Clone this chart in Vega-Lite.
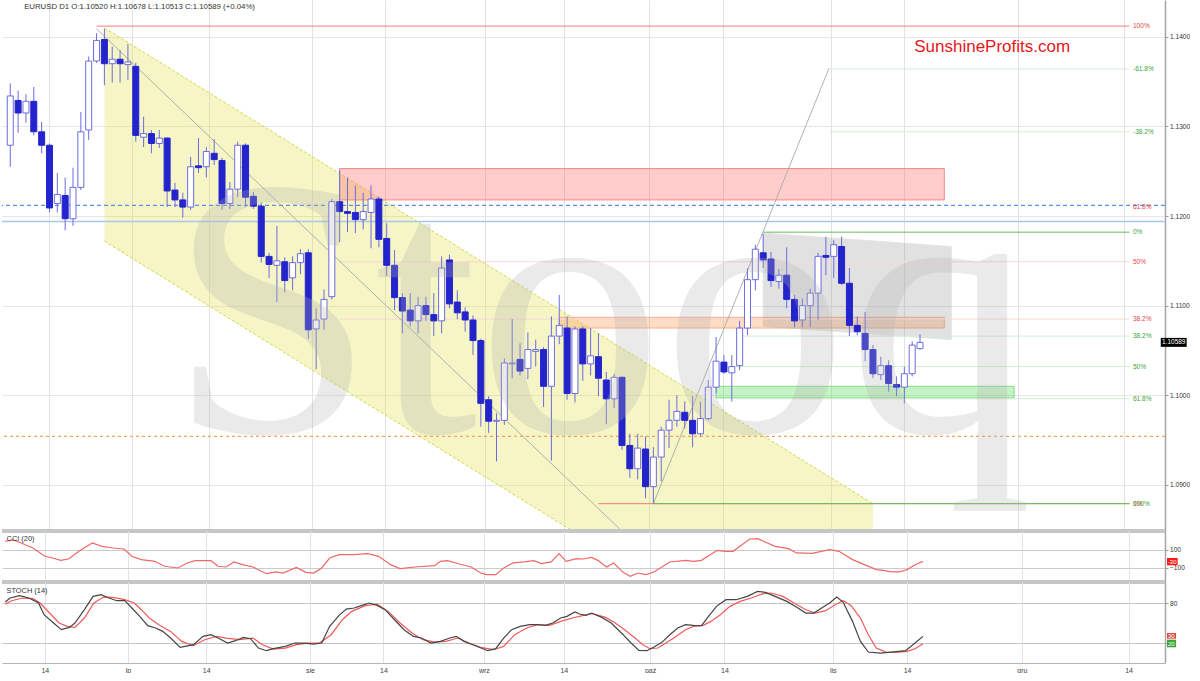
{
"$schema":"https://vega.github.io/schema/vega-lite/v6.json",
"padding":0,
"background":"#ffffff",
"spacing":0,
"bounds":"flush",
"config":{"font":"Liberation Sans","view":{"stroke":null},"axis":{"labelFont":"Liberation Sans","labelColor":"#333333"}},
"datasets":{
"candles":[
{"k":0,"o":1.1279,"h":1.1348,"l":1.1255,"c":1.1334},
{"k":1,"o":1.1329,"h":1.1340,"l":1.1293,"c":1.1315},
{"k":2,"o":1.1315,"h":1.1336,"l":1.1304,"c":1.1328},
{"k":3,"o":1.1328,"h":1.1344,"l":1.1290,"c":1.1294},
{"k":4,"o":1.1294,"h":1.1305,"l":1.1270,"c":1.1279},
{"k":5,"o":1.1279,"h":1.1281,"l":1.1204,"c":1.1209},
{"k":6,"o":1.1214,"h":1.1248,"l":1.1204,"c":1.1224},
{"k":7,"o":1.1223,"h":1.1243,"l":1.1184,"c":1.1197},
{"k":8,"o":1.1197,"h":1.1254,"l":1.1189,"c":1.1232},
{"k":9,"o":1.1232,"h":1.1316,"l":1.1229,"c":1.1294},
{"k":10,"o":1.1296,"h":1.1378,"l":1.1285,"c":1.1373},
{"k":11,"o":1.1373,"h":1.1404,"l":1.1371,"c":1.1396},
{"k":12,"o":1.1397,"h":1.1409,"l":1.1346,"c":1.1370},
{"k":13,"o":1.1370,"h":1.1389,"l":1.1349,"c":1.1375},
{"k":14,"o":1.1375,"h":1.1385,"l":1.1349,"c":1.1370},
{"k":15,"o":1.1369,"h":1.1392,"l":1.1352,"c":1.1372},
{"k":16,"o":1.1367,"h":1.1371,"l":1.1283,"c":1.1290},
{"k":17,"o":1.1288,"h":1.1311,"l":1.1277,"c":1.1292},
{"k":18,"o":1.1292,"h":1.1296,"l":1.1270,"c":1.1281},
{"k":19,"o":1.1281,"h":1.1296,"l":1.1276,"c":1.1287},
{"k":20,"o":1.1287,"h":1.1288,"l":1.1210,"c":1.1228},
{"k":21,"o":1.1229,"h":1.1237,"l":1.1210,"c":1.1218},
{"k":22,"o":1.1218,"h":1.1226,"l":1.1198,"c":1.1210},
{"k":23,"o":1.1210,"h":1.1266,"l":1.1207,"c":1.1255},
{"k":24,"o":1.1256,"h":1.1287,"l":1.1248,"c":1.1254},
{"k":25,"o":1.1255,"h":1.1277,"l":1.1243,"c":1.1272},
{"k":26,"o":1.1270,"h":1.1286,"l":1.1257,"c":1.1263},
{"k":27,"o":1.1262,"h":1.1265,"l":1.1207,"c":1.1214},
{"k":28,"o":1.1214,"h":1.1238,"l":1.1208,"c":1.1230},
{"k":29,"o":1.1230,"h":1.1283,"l":1.1221,"c":1.1279},
{"k":30,"o":1.1279,"h":1.1281,"l":1.1210,"c":1.1221},
{"k":31,"o":1.1222,"h":1.1227,"l":1.1208,"c":1.1211},
{"k":32,"o":1.1211,"h":1.1215,"l":1.1148,"c":1.1155},
{"k":33,"o":1.1155,"h":1.1159,"l":1.1131,"c":1.1146},
{"k":34,"o":1.1145,"h":1.1189,"l":1.1104,"c":1.1150},
{"k":35,"o":1.1149,"h":1.1154,"l":1.1115,"c":1.1128},
{"k":36,"o":1.1131,"h":1.1155,"l":1.1117,"c":1.1148},
{"k":37,"o":1.1148,"h":1.1163,"l":1.1135,"c":1.1158},
{"k":38,"o":1.1159,"h":1.1163,"l":1.1063,"c":1.1073},
{"k":39,"o":1.1074,"h":1.1097,"l":1.1029,"c":1.1084},
{"k":40,"o":1.1085,"h":1.1118,"l":1.1073,"c":1.1107},
{"k":41,"o":1.1110,"h":1.1219,"l":1.1107,"c":1.1216},
{"k":42,"o":1.1216,"h":1.1251,"l":1.1171,"c":1.1205},
{"k":43,"o":1.1205,"h":1.1243,"l":1.1182,"c":1.1203},
{"k":44,"o":1.1204,"h":1.1234,"l":1.1181,"c":1.1196},
{"k":45,"o":1.1196,"h":1.1226,"l":1.1185,"c":1.1205},
{"k":46,"o":1.1204,"h":1.1234,"l":1.1164,"c":1.1219},
{"k":47,"o":1.1219,"h":1.1222,"l":1.1165,"c":1.1174},
{"k":48,"o":1.1175,"h":1.1192,"l":1.1133,"c":1.1145},
{"k":49,"o":1.1145,"h":1.1162,"l":1.1095,"c":1.1109},
{"k":50,"o":1.1109,"h":1.1114,"l":1.1069,"c":1.1094},
{"k":51,"o":1.1095,"h":1.1114,"l":1.1077,"c":1.1083},
{"k":52,"o":1.1083,"h":1.1110,"l":1.1069,"c":1.1100},
{"k":53,"o":1.1100,"h":1.1110,"l":1.1083,"c":1.1090},
{"k":54,"o":1.1090,"h":1.1114,"l":1.1066,"c":1.1083},
{"k":55,"o":1.1083,"h":1.1155,"l":1.1069,"c":1.1142},
{"k":56,"o":1.1151,"h":1.1157,"l":1.1097,"c":1.1102},
{"k":57,"o":1.1104,"h":1.1117,"l":1.1085,"c":1.1092},
{"k":58,"o":1.1093,"h":1.1098,"l":1.1071,"c":1.1084},
{"k":59,"o":1.1084,"h":1.1089,"l":1.1045,"c":1.1061},
{"k":60,"o":1.1061,"h":1.1063,"l":1.0965,"c":1.0991},
{"k":61,"o":1.0995,"h":1.0999,"l":1.0958,"c":1.0971},
{"k":62,"o":1.0971,"h":1.0980,"l":1.0926,"c":1.0972},
{"k":63,"o":1.0972,"h":1.1041,"l":1.0967,"c":1.1036},
{"k":64,"o":1.1035,"h":1.1085,"l":1.1019,"c":1.1036},
{"k":65,"o":1.1040,"h":1.1058,"l":1.1022,"c":1.1027},
{"k":66,"o":1.1030,"h":1.1070,"l":1.1018,"c":1.1051},
{"k":67,"o":1.1049,"h":1.1062,"l":1.1032,"c":1.1051},
{"k":68,"o":1.1051,"h":1.1054,"l":1.0987,"c":1.1010},
{"k":69,"o":1.1010,"h":1.1088,"l":1.0927,"c":1.1066},
{"k":70,"o":1.1066,"h":1.1112,"l":1.1057,"c":1.1078},
{"k":71,"o":1.1075,"h":1.1088,"l":1.0995,"c":1.1002},
{"k":72,"o":1.1002,"h":1.1077,"l":1.0992,"c":1.1074},
{"k":73,"o":1.1074,"h":1.1077,"l":1.1016,"c":1.1035},
{"k":74,"o":1.1035,"h":1.1075,"l":1.1022,"c":1.1044},
{"k":75,"o":1.1043,"h":1.1069,"l":1.0999,"c":1.1019},
{"k":76,"o":1.1017,"h":1.1026,"l":1.0968,"c":1.0996},
{"k":77,"o":1.0996,"h":1.1024,"l":1.0986,"c":1.1020},
{"k":78,"o":1.1020,"h":1.1021,"l":1.0939,"c":1.0944},
{"k":79,"o":1.0944,"h":1.0957,"l":1.0908,"c":1.0918},
{"k":80,"o":1.0918,"h":1.0957,"l":1.0906,"c":1.0941},
{"k":81,"o":1.0940,"h":1.0954,"l":1.0885,"c":1.0898},
{"k":82,"o":1.0898,"h":1.0942,"l":1.0879,"c":1.0931},
{"k":83,"o":1.0931,"h":1.0965,"l":1.0904,"c":1.0961},
{"k":84,"o":1.0961,"h":1.0995,"l":1.0941,"c":1.0972},
{"k":85,"o":1.0972,"h":1.1000,"l":1.0965,"c":1.0982},
{"k":86,"o":1.0981,"h":1.0993,"l":1.0963,"c":1.0972},
{"k":87,"o":1.0972,"h":1.0999,"l":1.0942,"c":1.0957},
{"k":88,"o":1.0957,"h":1.0993,"l":1.0954,"c":1.0974},
{"k":89,"o":1.0974,"h":1.1017,"l":1.0972,"c":1.1009},
{"k":90,"o":1.1009,"h":1.1065,"l":1.1002,"c":1.1038},
{"k":91,"o":1.1037,"h":1.1045,"l":1.1024,"c":1.1026},
{"k":92,"o":1.1025,"h":1.1045,"l":1.0993,"c":1.1032},
{"k":93,"o":1.1033,"h":1.1083,"l":1.1028,"c":1.1075},
{"k":94,"o":1.1075,"h":1.1142,"l":1.1067,"c":1.1129},
{"k":95,"o":1.1129,"h":1.1168,"l":1.1117,"c":1.1163},
{"k":96,"o":1.1159,"h":1.1180,"l":1.1142,"c":1.1151},
{"k":97,"o":1.1152,"h":1.1160,"l":1.1121,"c":1.1128},
{"k":98,"o":1.1127,"h":1.1141,"l":1.1119,"c":1.1134},
{"k":99,"o":1.1134,"h":1.1165,"l":1.1097,"c":1.1107},
{"k":100,"o":1.1107,"h":1.1112,"l":1.1076,"c":1.1083},
{"k":101,"o":1.1084,"h":1.1108,"l":1.1076,"c":1.1100},
{"k":102,"o":1.1100,"h":1.1119,"l":1.1076,"c":1.1114},
{"k":103,"o":1.1114,"h":1.1159,"l":1.1084,"c":1.1155},
{"k":104,"o":1.1156,"h":1.1177,"l":1.1134,"c":1.1154},
{"k":105,"o":1.1155,"h":1.1173,"l":1.1131,"c":1.1168},
{"k":106,"o":1.1166,"h":1.1177,"l":1.1123,"c":1.1125},
{"k":107,"o":1.1125,"h":1.1142,"l":1.1066,"c":1.1078},
{"k":108,"o":1.1078,"h":1.1088,"l":1.1067,"c":1.1071},
{"k":109,"o":1.1069,"h":1.1093,"l":1.1038,"c":1.1051},
{"k":110,"o":1.1051,"h":1.1056,"l":1.1019,"c":1.1024},
{"k":111,"o":1.1023,"h":1.1043,"l":1.1017,"c":1.1033},
{"k":112,"o":1.1033,"h":1.1039,"l":1.1004,"c":1.1013},
{"k":113,"o":1.1012,"h":1.1021,"l":1.0999,"c":1.1009},
{"k":114,"o":1.1009,"h":1.1032,"l":1.0991,"c":1.1024},
{"k":115,"o":1.1024,"h":1.1060,"l":1.1021,"c":1.1056},
{"k":116,"o":1.1052,"h":1.1068,"l":1.1051,"c":1.1059}
],
"cci":[
{"k":0,"v":196},{"k":1,"v":213},{"k":2,"v":178},{"k":3.5,"v":122},{"k":5,"v":30},{"k":6,"v":11},{"k":7,"v":-15},{"k":8,"v":0},{"k":9.3,"v":85},{"k":11,"v":178},{"k":12.2,"v":141},{"k":13.6,"v":122},{"k":15,"v":111},{"k":16,"v":30},{"k":17.2,"v":-7},{"k":18.9,"v":-26},{"k":20.1,"v":-81},{"k":21.8,"v":-100},{"k":23,"v":-44},{"k":24,"v":-19},{"k":26,"v":-19},{"k":26.9,"v":-81},{"k":27.9,"v":-89},{"k":28.9,"v":-33},{"k":30,"v":-63},{"k":31.3,"v":-89},{"k":33,"v":-163},{"k":34.2,"v":-144},{"k":35.1,"v":-156},{"k":36.8,"v":-93},{"k":38,"v":-148},{"k":39,"v":-156},{"k":40,"v":-100},{"k":41,"v":11},{"k":42.2,"v":48},{"k":44.1,"v":48},{"k":45.8,"v":59},{"k":47.2,"v":30},{"k":48.7,"v":-63},{"k":49.9,"v":-107},{"k":51.8,"v":-89},{"k":54.3,"v":-74},{"k":55,"v":-26},{"k":55.9,"v":-19},{"k":57.4,"v":-56},{"k":58.9,"v":-89},{"k":60.1,"v":-156},{"k":60.8,"v":-174},{"k":62,"v":-174},{"k":63,"v":-100},{"k":64.2,"v":-44},{"k":65.6,"v":-33},{"k":66.8,"v":-19},{"k":67.8,"v":-52},{"k":69,"v":-33},{"k":70,"v":59},{"k":70.9,"v":-26},{"k":72.2,"v":4},{"k":73.1,"v":0},{"k":74.1,"v":18},{"k":74.9,"v":-15},{"k":76,"v":-89},{"k":76.9,"v":-44},{"k":78.1,"v":-148},{"k":79,"v":-193},{"k":80,"v":-156},{"k":81,"v":-174},{"k":82,"v":-144},{"k":84,"v":-33},{"k":86,"v":-15},{"k":87,"v":-26},{"k":88,"v":-15},{"k":90,"v":96},{"k":91,"v":85},{"k":92,"v":85},{"k":94.1,"v":222},{"k":95.1,"v":226},{"k":97.3,"v":141},{"k":99,"v":115},{"k":100,"v":67},{"k":102,"v":63},{"k":104.2,"v":104},{"k":105.4,"v":85},{"k":107.1,"v":-7},{"k":108.6,"v":-63},{"k":110.1,"v":-118},{"k":111,"v":-126},{"k":112,"v":-144},{"k":113,"v":-144},{"k":114,"v":-118},{"k":115,"v":-63},{"k":116,"v":-26}
],
"stk":[
{"k":0,"v":81.9},{"k":0.6,"v":87.9},{"k":1.8,"v":91.4},{"k":3,"v":87.9},{"k":4.2,"v":80.4},{"k":4.9,"v":62.9},{"k":6.1,"v":50.4},{"k":7.1,"v":40.4},{"k":8.1,"v":43.9},{"k":8.8,"v":50.4},{"k":10,"v":70.4},{"k":11.1,"v":90.4},{"k":12.1,"v":92.9},{"k":13.1,"v":87.9},{"k":14.1,"v":83.9},{"k":15.1,"v":83.9},{"k":16,"v":72.9},{"k":17,"v":60.4},{"k":18,"v":46.4},{"k":19,"v":42.9},{"k":19.9,"v":37.9},{"k":20.9,"v":27.9},{"k":22.1,"v":13.9},{"k":23.8,"v":17.9},{"k":25,"v":30.4},{"k":26,"v":32.9},{"k":26.9,"v":27.9},{"k":28.1,"v":20.4},{"k":29.1,"v":23.9},{"k":30.1,"v":28.9},{"k":31,"v":26.9},{"k":32,"v":12.9},{"k":33,"v":8.9},{"k":33.9,"v":11.9},{"k":35.4,"v":15.4},{"k":36.6,"v":20.4},{"k":37.8,"v":20.4},{"k":39,"v":18.9},{"k":40,"v":20.4},{"k":41,"v":45.4},{"k":42.2,"v":61.9},{"k":43.1,"v":71.4},{"k":44.1,"v":72.9},{"k":45.1,"v":76.9},{"k":46,"v":80.4},{"k":47,"v":76.9},{"k":48,"v":70.4},{"k":49,"v":57.9},{"k":50.4,"v":40.4},{"k":51.6,"v":30.4},{"k":52.6,"v":27.9},{"k":53.8,"v":20.4},{"k":55,"v":22.9},{"k":56.2,"v":27.9},{"k":57,"v":30.4},{"k":58,"v":22.9},{"k":59.1,"v":17.9},{"k":61,"v":8.9},{"k":62,"v":11.9},{"k":63,"v":27.9},{"k":64,"v":40.4},{"k":65.1,"v":45.4},{"k":66.3,"v":47.9},{"k":67.3,"v":47.9},{"k":68.3,"v":46.9},{"k":69.2,"v":50.4},{"k":70.2,"v":57.9},{"k":71,"v":60.4},{"k":72,"v":66.9},{"k":72.6,"v":63.9},{"k":73.4,"v":61.9},{"k":74.1,"v":65.4},{"k":75.4,"v":58.9},{"k":76.6,"v":50.4},{"k":78.1,"v":32.9},{"k":79.1,"v":20.4},{"k":80.1,"v":9.4},{"k":81.1,"v":8.9},{"k":82,"v":14.4},{"k":83,"v":21.4},{"k":84,"v":32.9},{"k":85,"v":42.9},{"k":86,"v":47.9},{"k":87,"v":46.9},{"k":88,"v":46.4},{"k":88.9,"v":60.4},{"k":89.9,"v":75.4},{"k":91.1,"v":85.4},{"k":92.4,"v":85.4},{"k":93.8,"v":90.4},{"k":95.1,"v":97.9},{"k":96.1,"v":96.4},{"k":97.3,"v":90.4},{"k":98.8,"v":82.9},{"k":100,"v":74.4},{"k":101.2,"v":65.4},{"k":102.2,"v":65.4},{"k":103.2,"v":72.9},{"k":104.2,"v":80.4},{"k":105.1,"v":89.4},{"k":105.9,"v":81.9},{"k":107.1,"v":52.9},{"k":108.1,"v":22.9},{"k":109.1,"v":6.9},{"k":110.6,"v":5.4},{"k":112,"v":6.9},{"k":113.8,"v":8.9},{"k":115,"v":20.4},{"k":116,"v":30.4}
],
"std":[
{"k":0,"v":78.9},{"k":0.8,"v":83.9},{"k":2.2,"v":87.9},{"k":3.5,"v":86.9},{"k":4.4,"v":80.4},{"k":5.6,"v":65.4},{"k":6.8,"v":50.4},{"k":7.8,"v":45.4},{"k":8.8,"v":43.9},{"k":10,"v":57.9},{"k":11.2,"v":80.4},{"k":12.4,"v":89.4},{"k":13.6,"v":88.9},{"k":15.1,"v":85.4},{"k":16.3,"v":80.4},{"k":17.2,"v":70.4},{"k":18.2,"v":57.9},{"k":19.4,"v":47.9},{"k":20.9,"v":37.9},{"k":22.3,"v":22.9},{"k":23.8,"v":16.4},{"k":25.2,"v":25.4},{"k":26.7,"v":30.4},{"k":27.9,"v":27.9},{"k":29.6,"v":25.4},{"k":31.3,"v":27.9},{"k":32.5,"v":17.9},{"k":33.9,"v":11.4},{"k":35.4,"v":12.9},{"k":36.8,"v":17.9},{"k":38.3,"v":20.4},{"k":39.7,"v":20.4},{"k":41.2,"v":32.9},{"k":42.6,"v":55.4},{"k":43.8,"v":67.9},{"k":45.5,"v":76.4},{"k":47,"v":78.9},{"k":48.4,"v":67.9},{"k":49.9,"v":50.4},{"k":51.4,"v":35.4},{"k":52.8,"v":25.4},{"k":54.3,"v":21.9},{"k":55.7,"v":22.9},{"k":57.2,"v":27.9},{"k":58.6,"v":20.4},{"k":60.1,"v":13.9},{"k":61.7,"v":10.4},{"k":63,"v":15.4},{"k":64.4,"v":32.9},{"k":65.9,"v":42.9},{"k":67.3,"v":47.9},{"k":68.8,"v":46.9},{"k":70.2,"v":52.9},{"k":71.7,"v":57.9},{"k":73.1,"v":61.9},{"k":74.2,"v":64.4},{"k":75.9,"v":58.9},{"k":77.1,"v":50.4},{"k":78.3,"v":40.4},{"k":79.6,"v":27.9},{"k":80.6,"v":17.9},{"k":81.5,"v":11.9},{"k":82.5,"v":12.9},{"k":83.5,"v":20.4},{"k":84.5,"v":27.9},{"k":86,"v":40.4},{"k":87,"v":45.4},{"k":88.2,"v":46.9},{"k":89.2,"v":52.9},{"k":90.4,"v":62.9},{"k":91.6,"v":75.4},{"k":92.9,"v":82.9},{"k":94.3,"v":87.9},{"k":95.8,"v":94.4},{"k":96.8,"v":95.4},{"k":98.3,"v":90.4},{"k":99.7,"v":80.4},{"k":101.2,"v":70.4},{"k":102.4,"v":65.4},{"k":103.7,"v":68.9},{"k":104.9,"v":77.9},{"k":105.9,"v":83.9},{"k":106.9,"v":76.9},{"k":108.1,"v":57.9},{"k":109.1,"v":32.9},{"k":110.1,"v":12.9},{"k":111.3,"v":6.9},{"k":112.5,"v":6.4},{"k":114,"v":7.9},{"k":115,"v":11.9},{"k":116,"v":19.4}
]
},
"vconcat":[
{
"width":1163,"height":531,
"layer":[
{"data":{"values":[{"k":12,"top":1.1410,"bot":1.1172},{"k":110,"top":1.0879,"bot":1.0641}]},
 "mark":{"type":"area","fill":"#e0e050","opacity":0.33,"clip":true},
 "encoding":{
  "x":{"field":"k","type":"quantitative","scale":{"domain":[-0.417,146.6],"nice":false,"zero":false},"axis":{"title":null,"values":[5,15.5,25.4,38.5,47.8,60.5,70.6,81.5,90.9,104.6,114,128.5,142],"labels":false,"ticks":false,"domain":false,"grid":true,"gridColor":"#e2e2e2"}},
  "y":{"field":"top","type":"quantitative","scale":{"domain":[1.08485,1.14411],"nice":false,"zero":false},"axis":{"title":null,"orient":"right","values":[1.09,1.1,1.11,1.12,1.13,1.14],"format":".4f","labelFontSize":6.6,"tickSize":3,"tickColor":"#999999","labelPadding":1.5,"grid":true,"gridColor":"#e6e6e6","domain":true,"domainColor":"#a5a5a5","domainWidth":1.5}},
  "y2":{"field":"bot"}}},
{"data":{"values":[{"k":12,"p":1.1410,"k2":110,"p2":1.0879},{"k":12,"p":1.1172,"k2":110,"p2":1.0641}]},
 "mark":{"type":"rule","stroke":"#d8d846","strokeDash":[3,2],"strokeWidth":1,"clip":true},
 "encoding":{"x":{"field":"k","type":"quantitative"},"y":{"field":"p","type":"quantitative"},"x2":{"field":"k2"},"y2":{"field":"p2"}}},
{"data":{"values":[{"k":42.0,"k2":119.1,"p":1.1253,"p2":1.1218}]},
 "mark":{"type":"rect","fill":"#ff6b6b","fillOpacity":0.35,"stroke":"#f08a8a","strokeWidth":1},
 "encoding":{"x":{"field":"k","type":"quantitative"},"x2":{"field":"k2"},"y":{"field":"p","type":"quantitative"},"y2":{"field":"p2"}}},
{"data":{"values":[{"k":70.0,"k2":119.1,"p":1.1087,"p2":1.1075}]},
 "mark":{"type":"rect","fill":"#ff9a55","fillOpacity":0.35,"stroke":"#f5b28c","strokeWidth":1},
 "encoding":{"x":{"field":"k","type":"quantitative"},"x2":{"field":"k2"},"y":{"field":"p","type":"quantitative"},"y2":{"field":"p2"}}},
{"data":{"values":[{"k":90.0,"k2":128.0,"p":1.1010,"p2":1.0997}]},
 "mark":{"type":"rect","fill":"#55dd55","fillOpacity":0.35,"stroke":"#8cd88c","strokeWidth":1},
 "encoding":{"x":{"field":"k","type":"quantitative"},"x2":{"field":"k2"},"y":{"field":"p","type":"quantitative"},"y2":{"field":"p2"}}},
{"data":{"values":[{"k":96,"top":1.1181,"bot":1.1077},{"k":120,"top":1.1166,"bot":1.1062}]},
 "mark":{"type":"area","fill":"#8c8c8c","opacity":0.25,"stroke":"#909090","strokeWidth":0.8},
 "encoding":{"x":{"field":"k","type":"quantitative"},"y":{"field":"top","type":"quantitative"},"y2":{"field":"bot"}}},
{"data":{"values":[{"p":1.1212}]},
 "mark":{"type":"rule","stroke":"#5b8fe8","strokeDash":[4,3],"strokeWidth":1.2},
 "encoding":{"y":{"field":"p","type":"quantitative"}}},
{"data":{"values":[{"p":1.1194}]},
 "mark":{"type":"rule","stroke":"#a9c6ee","strokeWidth":1.5},
 "encoding":{"y":{"field":"p","type":"quantitative"}}},
{"data":{"values":[{"p":1.0954}]},
 "mark":{"type":"rule","stroke":"#f5a35e","strokeDash":[3,3],"strokeWidth":1.2},
 "encoding":{"y":{"field":"p","type":"quantitative"}}},
{"data":{"values":[
 {"k":11,"k2":142.7,"p":1.1412,"g":"r"},
 {"k":42,"k2":142.7,"p":1.1149,"g":"rf"},
 {"k":42,"k2":142.7,"p":1.1085,"g":"rf"},
 {"k":75,"k2":142.7,"p":1.0879,"g":"r"},
 {"k":96,"k2":142.7,"p":1.1182,"g":"g"},
 {"k":104.5,"k2":142.7,"p":1.1364,"g":"gf"},
 {"k":104.5,"k2":142.7,"p":1.1294,"g":"gf"},
 {"k":92.5,"k2":142.7,"p":1.1066,"g":"gf"},
 {"k":92.5,"k2":142.7,"p":1.1032,"g":"gf"},
 {"k":92.5,"k2":142.7,"p":1.0996,"g":"gf"},
 {"k":82,"k2":142.7,"p":1.0879,"g":"g"}]},
 "mark":{"type":"rule","strokeWidth":1},
 "encoding":{"x":{"field":"k","type":"quantitative"},"x2":{"field":"k2"},"y":{"field":"p","type":"quantitative"},
  "stroke":{"field":"g","type":"nominal","scale":{"domain":["r","rf","g","gf"],"range":["#f07a7a","#f9d6d6","#60c060","#d3ecd3"]},"legend":null}}},
{"data":{"values":[{"k":11,"p":1.1409,"k2":78.4,"p2":1.0845},{"k":82,"p":1.0879,"k2":104.4,"p2":1.1365}]},
 "mark":{"type":"rule","stroke":"#a8a8a8","strokeWidth":0.9,"clip":true},
 "encoding":{"x":{"field":"k","type":"quantitative"},"y":{"field":"p","type":"quantitative"},"x2":{"field":"k2"},"y2":{"field":"p2"}}},
{"data":{"name":"candles"},
 "mark":{"type":"rule","stroke":"#6c6ce0","strokeWidth":1},
 "encoding":{"x":{"field":"k","type":"quantitative"},"y":{"field":"l","type":"quantitative"},"y2":{"field":"h"}}},
{"data":{"name":"candles"},
 "mark":{"type":"bar","size":6,"strokeWidth":1},
 "encoding":{"x":{"field":"k","type":"quantitative"},"y":{"field":"o","type":"quantitative"},"y2":{"field":"c"},
  "fill":{"condition":{"test":"datum.c < datum.o","value":"#2424cc"},"value":"#ffffff"},
  "stroke":{"condition":{"test":"datum.c < datum.o","value":"#2424cc"},"value":"#6c6ce0"}}},
{"data":{"values":[
 {"k":143.15,"p":1.1412,"t":"100%","g":"r"},
 {"k":143.15,"p":1.1364,"t":"-61.8%","g":"g"},
 {"k":143.15,"p":1.1294,"t":"-38.2%","g":"g"},
 {"k":143.15,"p":1.1210,"t":"61.8%","g":"r"},
 {"k":143.15,"p":1.1182,"t":"0%","g":"g"},
 {"k":143.15,"p":1.1149,"t":"50%","g":"r"},
 {"k":143.15,"p":1.1085,"t":"38.2%","g":"r"},
 {"k":143.15,"p":1.1066,"t":"38.2%","g":"g"},
 {"k":143.15,"p":1.1032,"t":"50%","g":"g"},
 {"k":143.15,"p":1.0996,"t":"61.8%","g":"g"},
 {"k":143.15,"p":1.0879,"t":"0%","g":"r"},
 {"k":143.15,"p":1.0879,"t":"100%","g":"g"}]},
 "mark":{"type":"text","align":"left","baseline":"middle","fontSize":6.6},
 "encoding":{"x":{"field":"k","type":"quantitative"},"y":{"field":"p","type":"quantitative"},"text":{"field":"t"},
  "fill":{"field":"g","type":"nominal","scale":{"domain":["r","g"],"range":["#e54848","#3aa53a"]},"legend":null}}},
{"data":{"values":[{"k":1.77,"p":1.1433,"t":"EURUSD  D1  O:1.10520  H:1.10678  L:1.10513  C:1.10589  (+0.04%)"}]},
 "mark":{"type":"text","align":"left","baseline":"middle","fontSize":7.8,"fill":"#333333"},
 "encoding":{"x":{"field":"k","type":"quantitative"},"y":{"field":"p","type":"quantitative"},"text":{"field":"t"}}},
{"data":{"values":[{"k":125.2,"p":1.1389,"t":"SunshineProfits.com"}]},
 "mark":{"type":"text","align":"center","baseline":"middle","fontSize":17,"fill":"#e8161b"},
 "encoding":{"x":{"field":"k","type":"quantitative"},"y":{"field":"p","type":"quantitative"},"text":{"field":"t"}}},
{"data":{"values":[{"k":75.3,"p":1.0959,"t":"Stooq"}]},
 "mark":{"type":"text","align":"center","baseline":"alphabetic","font":"Liberation Serif","fontSize":370,"fill":"#b0b0b0","fillOpacity":0.27},
 "encoding":{"x":{"field":"k","type":"quantitative"},"y":{"field":"p","type":"quantitative"},"text":{"field":"t"}}},
{"data":{"values":[{"k":146.7,"k2":150.0,"p":1.1054,"p2":1.1064}]},
 "mark":{"type":"rect","fill":"#000000","clip":false},
 "encoding":{"x":{"field":"k","type":"quantitative"},"x2":{"field":"k2"},"y":{"field":"p","type":"quantitative"},"y2":{"field":"p2"}}},
{"data":{"values":[{"k":148.35,"p":1.1059,"t":"1.10589"}]},
 "mark":{"type":"text","align":"center","baseline":"middle","fontSize":6.5,"fill":"#ffffff"},
 "encoding":{"x":{"field":"k","type":"quantitative"},"y":{"field":"p","type":"quantitative"},"text":{"field":"t"}}},
{"data":{"values":[{"p":1.08485}]},
 "mark":{"type":"rule","stroke":"#c6c6c6","strokeWidth":4,"clip":false},
 "encoding":{"y":{"field":"p","type":"quantitative"}}}
]
},
{
"width":1163,"height":51,
"layer":[
{"data":{"name":"cci"},
 "mark":{"type":"line","stroke":"#f06868","strokeWidth":1.2},
 "encoding":{
  "x":{"field":"k","type":"quantitative","scale":{"domain":[-0.417,146.6],"nice":false,"zero":false},"axis":{"title":null,"values":[5,15.5,25.4,38.5,47.8,60.5,70.6,81.5,90.9,104.6,114,128.5,142],"labels":false,"ticks":false,"domain":false,"grid":true,"gridColor":"#e2e2e2"}},
  "y":{"field":"v","type":"quantitative","scale":{"domain":[-255.6,311],"nice":false,"zero":false},"axis":{"title":null,"orient":"right","values":[100,-100],"labelFontSize":6.6,"tickSize":3,"tickColor":"#999999","labelPadding":1.5,"grid":true,"gridColor":"#cccccc","domain":true,"domainColor":"#a5a5a5","domainWidth":1.5}}}},
{"data":{"values":[{"k":0.16,"v":222,"t":"CCI (20)"}]},
 "mark":{"type":"text","align":"left","baseline":"middle","fontSize":7.4,"fill":"#333333"},
 "encoding":{"x":{"field":"k","type":"quantitative"},"y":{"field":"v","type":"quantitative"},"text":{"field":"t"}}},
{"data":{"values":[{"k":146.85,"k2":148.2,"v":11,"v2":-70}]},
 "mark":{"type":"rect","fill":"#ff1a1a","clip":false},
 "encoding":{"x":{"field":"k","type":"quantitative"},"x2":{"field":"k2"},"y":{"field":"v","type":"quantitative"},"y2":{"field":"v2"}}},
{"data":{"values":[{"k":147.5,"v":-30,"t":"-30"}]},
 "mark":{"type":"text","align":"center","baseline":"middle","fontSize":6,"fill":"#ffffff"},
 "encoding":{"x":{"field":"k","type":"quantitative"},"y":{"field":"v","type":"quantitative"},"text":{"field":"t"}}},
{"data":{"values":[{"v":-255.6}]},
 "mark":{"type":"rule","stroke":"#c6c6c6","strokeWidth":4,"clip":false},
 "encoding":{"y":{"field":"v","type":"quantitative"}}}
]
},
{
"width":1163,"height":81,
"layer":[
{"data":{"name":"std"},
 "mark":{"type":"line","stroke":"#f25a5a","strokeWidth":1.2},
 "encoding":{
  "x":{"field":"k","type":"quantitative","scale":{"domain":[-0.417,146.6],"nice":false,"zero":false},"axis":{"title":null,"orient":"bottom","values":[5,15.5,25.4,38.5,47.8,60.5,70.6,81.5,90.9,104.6,114,128.5,142],"labelExpr":"['14','lp','14','sie','14','wrz','14','paź','14','lis','14','gru','14'][indexof([5,15.5,25.4,38.5,47.8,60.5,70.6,81.5,90.9,104.6,114,128.5,142], datum.value)]","labelFontSize":7,"labelColor":"#444444","labelPadding":3,"labelDx":-1.5,"ticks":false,"domain":true,"domainColor":"#b5b5b5","grid":true,"gridColor":"#e2e2e2"}},
  "y":{"field":"v","type":"quantitative","scale":{"domain":[-9.55,111.95],"nice":false,"zero":false},"axis":{"title":null,"orient":"right","values":[80,20],"labelExpr":"datum.value == 20 ? '' : datum.label","labelFontSize":6.6,"tickSize":3,"tickColor":"#999999","labelPadding":1.5,"grid":true,"gridColor":"#c4c4c4","domain":true,"domainColor":"#a5a5a5","domainWidth":1.5}}}},
{"data":{"name":"stk"},
 "mark":{"type":"line","stroke":"#454545","strokeWidth":1.2},
 "encoding":{"x":{"field":"k","type":"quantitative"},"y":{"field":"v","type":"quantitative"}}},
{"data":{"values":[{"k":0.16,"v":98.9,"t":"STOCH (14)"}]},
 "mark":{"type":"text","align":"left","baseline":"middle","fontSize":7.4,"fill":"#333333"},
 "encoding":{"x":{"field":"k","type":"quantitative"},"y":{"field":"v","type":"quantitative"},"text":{"field":"t"}}},
{"data":{"values":[{"k":146.85,"k2":148.0,"v":35.5,"v2":26.9,"g":"k"},{"k":146.85,"k2":148.0,"v":25.4,"v2":14.0,"g":"d"}]},
 "mark":{"type":"rect","clip":false},
 "encoding":{"x":{"field":"k","type":"quantitative"},"x2":{"field":"k2"},"y":{"field":"v","type":"quantitative"},"y2":{"field":"v2"},
  "fill":{"field":"g","type":"nominal","scale":{"domain":["k","d"],"range":["#000000","#ff1a1a"]},"legend":null}}},
{"data":{"values":[{"k":147.4,"v":31.2,"t":"30"},{"k":147.4,"v":19.7,"t":"20"}]},
 "mark":{"type":"text","align":"center","baseline":"middle","fontSize":6,"fill":"#ffffff"},
 "encoding":{"x":{"field":"k","type":"quantitative"},"y":{"field":"v","type":"quantitative"},"text":{"field":"t"}}}
]
}
]
}
